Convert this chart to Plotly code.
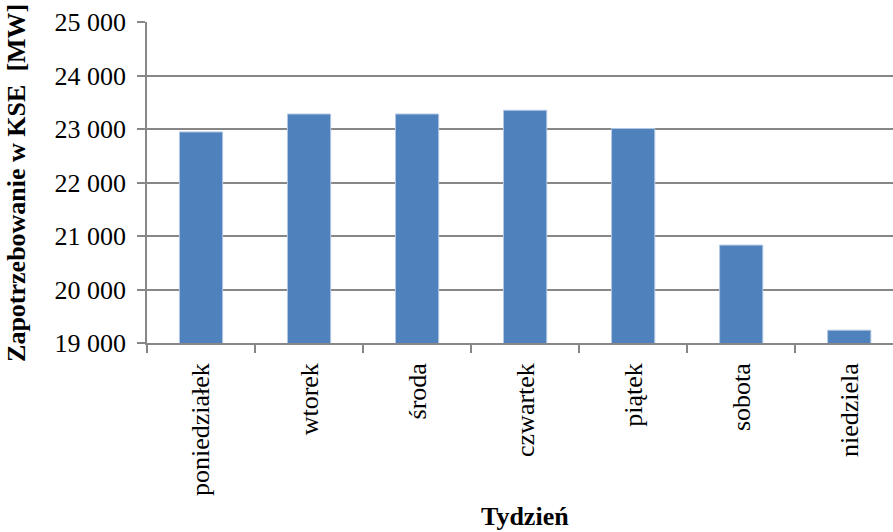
import plotly.graph_objects as go

days = ["poniedziałek", "wtorek", "środa", "czwartek", "piątek", "sobota", "niedziela"]
demand = [22945, 23280, 23280, 23350, 23010, 20830, 19240]
ytick_vals = [19000, 20000, 21000, 22000, 23000, 24000, 25000]
ytick_text = ["19 000", "20 000", "21 000", "22 000", "23 000", "24 000", "25 000"]

FONT = "Liberation Serif"
GRID = "#878787"

fig = go.Figure(go.Bar(
    x=days, y=demand, width=0.40,
    marker=dict(color="#4F81BD", line=dict(color="#B3C8E3", width=1)),
))

fig.update_layout(
    width=893, height=532,
    margin=dict(l=147, r=0, t=22, b=189),
    paper_bgcolor="white", plot_bgcolor="white",
    showlegend=False,
    font=dict(family=FONT, color="black", size=26),
    annotations=[
        dict(text="<b>Tydzień</b>", xref="paper", yref="paper", x=0.507, y=-0.54,
             xanchor="center", yanchor="middle", showarrow=False,
             font=dict(family=FONT, size=26, color="black")),
        dict(text="<b>Zapotrzebowanie w KSE  [MW]</b>", xref="paper", yref="paper",
             x=-0.175, y=0.5, xanchor="center", yanchor="middle", textangle=-90,
             showarrow=False, font=dict(family=FONT, size=26, color="black")),
    ],
)

fig.update_xaxes(
    type="category", range=[-0.5, 6.405],
    showline=True, linecolor=GRID, linewidth=1.5,
    ticks="outside", tickson="boundaries", ticklen=8, tickcolor=GRID, tickwidth=1.5,
    tickangle=-90, tickfont=dict(family=FONT, size=26),
    ticklabelstandoff=8,
    showgrid=False,
)
fig.update_yaxes(
    range=[19000, 25000], tickvals=ytick_vals, ticktext=ytick_text,
    showline=True, linecolor=GRID, linewidth=1.5,
    ticks="outside", ticklen=8, tickcolor=GRID, tickwidth=1.5,
    showgrid=True, gridcolor=GRID, gridwidth=1.5,
    tickfont=dict(family=FONT, size=26),
    ticklabelstandoff=6,
    zeroline=False,
)

fig.write_html("out.html")
